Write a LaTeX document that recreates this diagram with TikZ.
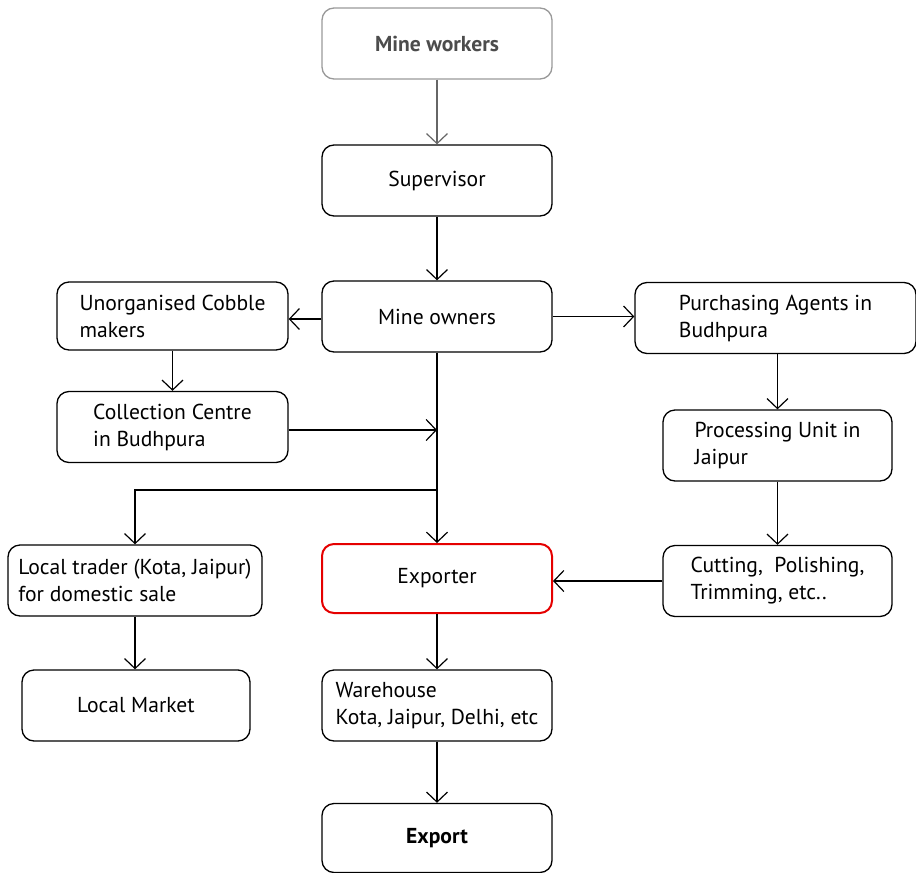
\documentclass[tikz,border=0pt]{standalone}
\usepackage{fontspec}
\setmainfont{PT Sans}
\usetikzlibrary{arrows.meta,positioning}

\begin{document}
\begin{tikzpicture}[x=1pt,y=-1pt,
	box/.style={draw,rounded corners=12pt,line width=1.3pt,minimum width=230pt,minimum height=71pt,align=left,font=\fontsize{21.6}{27}\selectfont},
	link/.style={->,line width=1.2pt},
	>={Straight Barb[length=10pt,width=21pt]}]
	\useasboundingbox (0,0) rectangle (916,873);

	\node[box,draw=black!40,text=black!70,font=\fontsize{21.6}{27}\selectfont\bfseries] (W) at (437,43.5) {Mine workers};
	\node[box] (S) at (437,180.5) {Supervisor};
	\node[box] (O) at (437,316.5) {Mine owners};
	\node[box,minimum width=231pt,minimum height=68pt] (C) at (172.5,316) {Unorganised Cobble\\makers};
	\node[box,minimum width=281pt] (P) at (775.5,318) {Purchasing Agents in\\Budhpura};
	\node[box,minimum width=231pt] (CC) at (172.5,427) {Collection Centre\\in Budhpura};
	\node[box,minimum width=229pt] (PU) at (777.5,445.5) {Processing Unit in\\Jaipur};
	\node[box,minimum width=254pt] (LT) at (135,580.5) {Local trader (Kota, Jaipur)\\for domestic sale};
	\node[box,draw=red!90!black,line width=2pt,minimum height=69pt,align=center] (E) at (437,578.5) {Exporter};
	\node[box,minimum width=229pt] (CP) at (777.5,581) {Cutting,~ Polishing,\\Trimming, etc..};
	\node[box,minimum width=228pt] (LM) at (136,705.5) {Local Market};
	\node[box] (WH) at (437,705.5) {Warehouse\\Kota, Jaipur, Delhi, etc};
	\node[box,font=\fontsize{21.6}{27}\selectfont\bfseries,minimum height=69pt] (X) at (437,838) {Export};

	\coordinate (trunk) at (437,430);
	\coordinate (split) at (437,490);

	\draw[link,draw=black!60] (W) -- (S);
	\draw[link] (S) -- (O);
	\draw[link] (O.west |- 0,319) -- (C.east |- 0,319);
	\draw[link] (O.east) -- (P.west |- O.east);
	\draw[link] (C.south) -- (CC.north);
	\draw[link] (CC.east |- trunk) -- (trunk);
	\draw[link] (O.south) -- (E.north);
	\draw[link] (split) -| (LT.north);
	\draw[link] (P.south -| PU.north) -- (PU.north);
	\draw[link] (PU.south) -- (CP.north);
	\draw[link] (CP.west) -- (E.east |- CP.west);
	\draw[link] (LT.south) -- (LM.north -| LT.south);
	\draw[link] (E.south) -- (WH.north);
	\draw[link] (WH.south) -- (X.north);
\end{tikzpicture}
\end{document}
